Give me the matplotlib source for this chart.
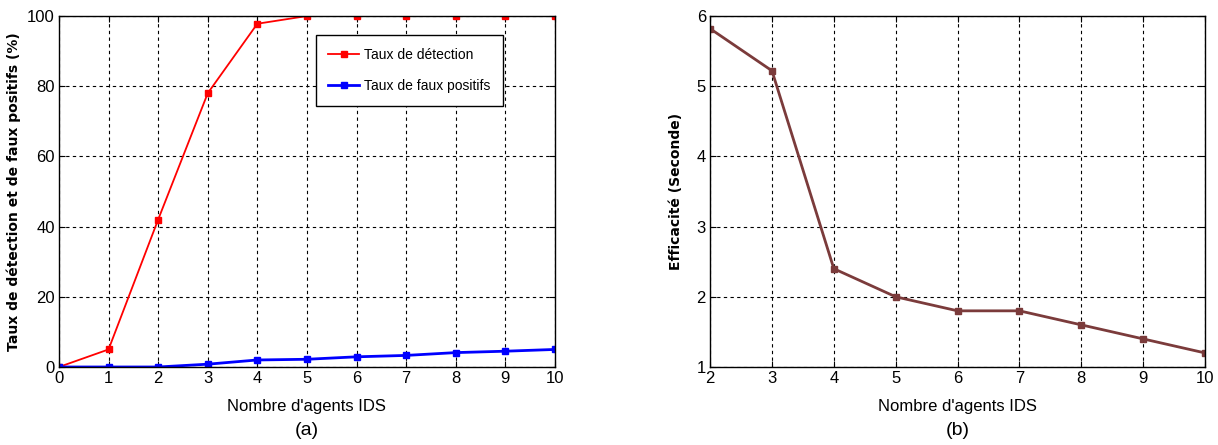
import numpy as np
import matplotlib.pyplot as plt

plt.rcParams['font.family'] = ['Liberation Sans Narrow', 'Liberation Sans', 'DejaVu Sans']

# Panel (a) data
agents_a = [0, 1, 2, 3, 4, 5, 6, 7, 8, 9, 10]
detection = [0, 5, 42, 78, 97.8, 100, 100, 100, 100, 100, 100]
false_pos = [0, 0, 0, 0.8, 2.0, 2.2, 2.9, 3.3, 4.1, 4.5, 5.0]

# Panel (b) data
agents_b = [2, 3, 4, 5, 6, 7, 8, 9, 10]
efficacite = [5.82, 5.22, 2.4, 2.0, 1.8, 1.8, 1.6, 1.4, 1.2]

fig = plt.figure(figsize=(12.18, 4.45), dpi=100)
ax1 = fig.add_axes([0.0484, 0.1753, 0.4072, 0.7887])
ax2 = fig.add_axes([0.583, 0.1753, 0.4064, 0.7887])

def style(ax):
    ax.grid(True, color='black', linestyle=(0, (3, 3)), linewidth=0.8)
    ax.tick_params(direction='in', top=True, right=True, labelsize=12, length=4, pad=3)
    for s in ax.spines.values():
        s.set_linewidth(1.0)

ax1.plot(agents_a, detection, color='red', marker='s', markersize=4, linewidth=1.3,
         label='Taux de détection')
ax1.plot(agents_a, false_pos, color='blue', marker='s', markersize=4, linewidth=2.0,
         label='Taux de faux positifs')
ax1.set_xlim(0, 10)
ax1.set_ylim(0, 100)
ax1.set_xticks(range(0, 11))
ax1.set_yticks(range(0, 101, 20))
style(ax1)
ax1.set_xlabel("Nombre d'agents IDS", fontsize=12, labelpad=9)
ax1.set_ylabel('Taux de détection et de faux positifs (%)', fontsize=10, fontweight='bold',
               family=['DejaVu Sans'], labelpad=4)
leg = ax1.legend(loc='upper left', bbox_to_anchor=(0.518, 0.945), fontsize=10,
                 fancybox=False, framealpha=1, edgecolor='black', borderpad=0.9,
                 handlelength=2.2, handletextpad=0.4, labelspacing=1.25, borderaxespad=0)
leg.get_frame().set_linewidth(1.0)
ax1.text(0.5, -0.18, '(a)', transform=ax1.transAxes, ha='center', va='center', fontsize=14)

ax2.plot(agents_b, efficacite, color='#7b3b3b', marker='s', markersize=4, linewidth=2.0)
ax2.set_xlim(2, 10)
ax2.set_ylim(1, 6)
ax2.set_xticks(range(2, 11))
ax2.set_yticks(range(1, 7))
style(ax2)
ax2.set_xlabel("Nombre d'agents IDS", fontsize=12, labelpad=9)
ax2.set_ylabel('Efficacité (Seconde)', fontsize=10, fontweight='bold',
               family=['DejaVu Sans'], labelpad=10)
ax2.text(0.5, -0.18, '(b)', transform=ax2.transAxes, ha='center', va='center', fontsize=14)

fig.savefig('out.png', dpi=100)
